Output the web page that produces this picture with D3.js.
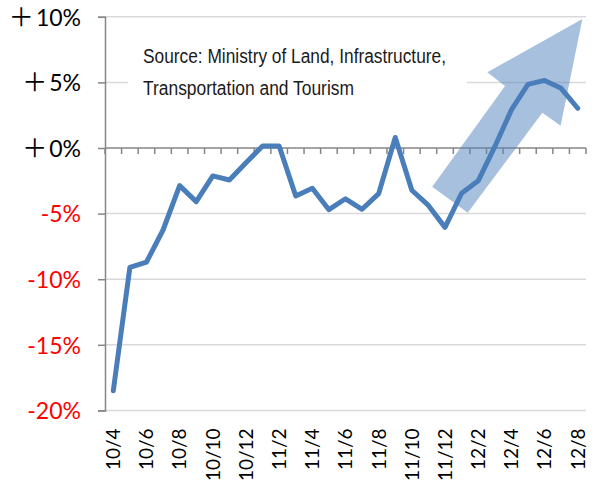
<!DOCTYPE html>
<html>
<head>
<meta charset="utf-8">
<script src="https://cdn.jsdelivr.net/npm/d3@7"></script>
<style>
  body { margin: 0; background: #fff; }
</style>
</head>
<body>
<svg id="chart" width="596" height="491"></svg>
<script>
// monthly change, 2010/4 - 2012/8
var months = ["10/4","10/5","10/6","10/7","10/8","10/9","10/10","10/11","10/12",
              "11/1","11/2","11/3","11/4","11/5","11/6","11/7","11/8","11/9","11/10","11/11","11/12",
              "12/1","12/2","12/3","12/4","12/5","12/6","12/7","12/8"];
var values = [-18.5, -9.1, -8.7, -6.25, -2.87, -4.09, -2.13, -2.44, -1.12,
              0.15, 0.15, -3.66, -3.07, -4.7, -3.87, -4.67, -3.48, 0.8, -3.22, -4.38, -6.05,
              -3.45, -2.5, 0.1, 2.9, 4.85, 5.15, 4.55, 3.03];
var yTicks = [10, 5, 0, -5, -10, -15, -20];
var yTickSigns = ["＋", "＋", "＋", "", "", "", ""];
var yTickLabels = ["10%", "5%", "0%", "-5%", "-10%", "-15%", "-20%"];
var sourceLines = ["Source: Ministry of Land, Infrastructure,", "Transportation and Tourism"];
// trend arrow outline in (month index, percent)
var arrowPts = [[28.28, 9.83], [22.55, 5.77], [23.62, 4.73], [19.23, -2.95],
                [21.37, -4.93], [25.87, 2.69], [26.97, 1.70]];

var svg = d3.select("#chart");
var mLeft = 105, mRight = 586, mTop = 16.8, mBottom = 410.4;

var x = d3.scaleBand().domain(months).range([mLeft, mRight]);
var xi = d3.scaleLinear().domain([-0.5, months.length - 0.5]).range([mLeft, mRight]);
var y = d3.scaleLinear().domain([-20, 10]).range([mBottom, mTop]);

// gridlines
svg.append("g").selectAll("line")
  .data(yTicks.filter(function(d) { return d !== 0; }))
  .enter().append("line")
  .attr("x1", mLeft).attr("x2", mRight)
  .attr("y1", function(d) { return y(d); })
  .attr("y2", function(d) { return y(d); })
  .attr("stroke", "#d9d9d9")
  .attr("stroke-width", 1.5);

// source box (hides the gridline behind it)
svg.append("rect")
  .attr("x", 128).attr("y", 36)
  .attr("width", 339).attr("height", 70)
  .attr("fill", "#fff");

svg.append("g").selectAll("text")
  .data(sourceLines)
  .enter().append("text")
  .attr("x", 143)
  .attr("y", function(d, i) { return 63 + i * 31.5; })
  .attr("font-family", "'Liberation Sans', Arial, sans-serif")
  .attr("font-size", 20)
  .attr("textLength", function(d, i) { return i === 0 ? 303 : 211; })
  .attr("lengthAdjust", "spacingAndGlyphs")
  .attr("fill", "#1a1a1a")
  .text(function(d) { return d; });

// y axis
var yAxis = d3.axisLeft(y).tickValues(yTicks).tickSize(7).tickFormat("");
var gy = svg.append("g").attr("transform", "translate(" + mLeft + ",0)").call(yAxis);
gy.select(".domain").attr("stroke", "#868686").attr("stroke-width", 1.5);
gy.selectAll(".tick line").attr("stroke", "#868686").attr("stroke-width", 1.5);
var yt = gy.selectAll(".tick text")
  .attr("x", -24)
  .attr("dy", "0.36em")
  .attr("font-family", "Lato, sans-serif")
  .attr("font-size", 23)
  .attr("fill", function(d) { return d < 0 ? "#ff0000" : "#000"; });
yt.each(function(d, i) {
  var t = d3.select(this);
  if (yTickSigns[i]) {
    t.append("tspan")
      .attr("font-family", "'Noto Sans CJK JP', sans-serif")
      .attr("font-size", 25)
      .text(yTickSigns[i]);
  }
  t.append("tspan").attr("dx", yTickSigns[i] ? 2 : 0).text(yTickLabels[i]);
});

// zero line with category ticks
var bounds = d3.range(months.length + 1);
var gz = svg.append("g");
gz.append("line")
  .attr("x1", mLeft).attr("x2", mRight)
  .attr("y1", y(0)).attr("y2", y(0))
  .attr("stroke", "#868686").attr("stroke-width", 1.5);
gz.selectAll("line.tk")
  .data(bounds)
  .enter().append("line")
  .attr("class", "tk")
  .attr("x1", function(d) { return xi(d - 0.5); })
  .attr("x2", function(d) { return xi(d - 0.5); })
  .attr("y1", y(0)).attr("y2", y(0) + 6)
  .attr("stroke", "#868686").attr("stroke-width", 1.5);

// x labels at the bottom
var xAxis = d3.axisBottom(x).tickSize(0)
  .tickValues(months.filter(function(d, i) { return i % 2 === 0; }));
var gx = svg.append("g").attr("transform", "translate(0," + mBottom + ")").call(xAxis);
gx.select(".domain").remove();
gx.selectAll(".tick text")
  .attr("transform", "rotate(-90)")
  .attr("x", -18).attr("y", 0).attr("dy", "0.36em")
  .attr("text-anchor", "end")
  .attr("font-family", "Lato, sans-serif")
  .attr("font-size", 19)
  .attr("fill", "#000");

// trend arrow
svg.append("path")
  .datum(arrowPts)
  .attr("d", d3.line()
    .x(function(d) { return xi(d[0]); })
    .y(function(d) { return y(d[1]); })
    .curve(d3.curveLinearClosed))
  .attr("fill", "#4f81bd")
  .attr("fill-opacity", 0.5);

// series line
svg.append("path")
  .datum(values)
  .attr("d", d3.line()
    .x(function(d, i) { return x(months[i]) + x.bandwidth() / 2; })
    .y(function(d) { return y(d); }))
  .attr("fill", "none")
  .attr("stroke", "#4a7ebb")
  .attr("stroke-width", 5)
  .attr("stroke-linejoin", "round")
  .attr("stroke-linecap", "round");
</script>
</body>
</html>
